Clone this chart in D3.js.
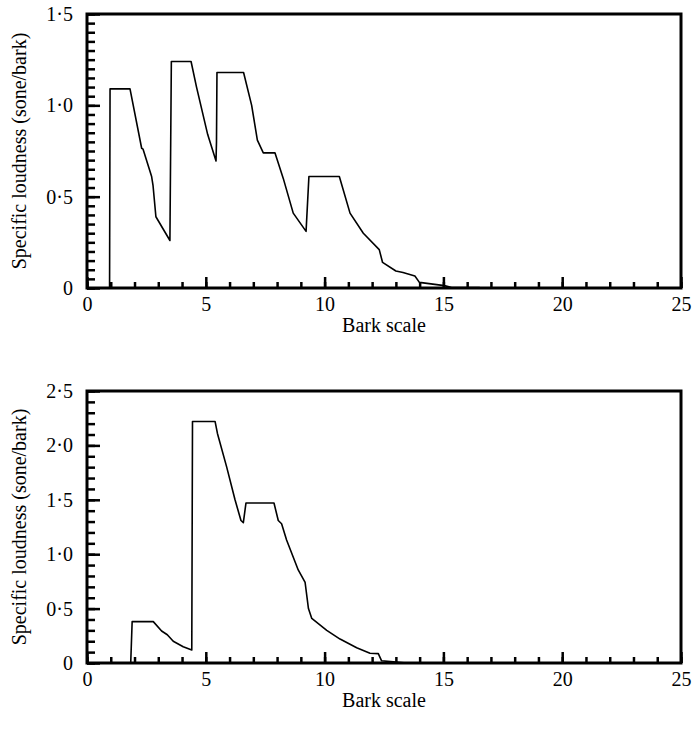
<!DOCTYPE html>
<html>
<head>
<meta charset="utf-8">
<script src="https://cdn.jsdelivr.net/npm/d3@7"></script>
<style>
  body { margin: 0; background: #fff; }
</style>
</head>
<body>
<div id="chart"></div>
<script>
const width = 694, height = 729;

// top panel: specific loudness vs bark
const barkTop = [0.95, 0.97, 1.81, 2.30, 2.36, 2.72, 2.78, 2.90, 3.49, 3.55, 3.59, 4.38, 4.61, 5.08, 5.43, 5.45, 5.47,
  6.59, 6.93, 7.17, 7.42, 7.91, 8.26, 8.68, 9.22, 9.34, 10.62, 11.07, 11.63, 12.30, 12.44, 13.0, 13.3, 13.8, 13.99,
  15.04, 15.35, 16.5, 16.6, 25];
const loudTop = [0, 1.09, 1.09, 0.765, 0.76, 0.61, 0.56, 0.39, 0.26, 1.24, 1.24, 1.24, 1.10, 0.84, 0.695, 0.80, 1.18,
  1.18, 1.00, 0.81, 0.74, 0.74, 0.60, 0.41, 0.31, 0.61, 0.61, 0.41, 0.30, 0.21, 0.14, 0.093, 0.085, 0.066, 0.031,
  0.013, 0.003, 0.003, 0, 0];

// bottom panel
const barkBottom = [1.84, 1.90, 2.79, 3.14, 3.38, 3.63, 4.05, 4.41, 4.44, 4.47, 5.39, 5.49, 5.88, 6.23, 6.48, 6.58,
  6.69, 7.87, 8.05, 8.19, 8.40, 8.89, 9.18, 9.32, 9.46, 10.09, 10.65, 11.35, 11.91, 12.26, 12.40, 12.89, 13.45, 25];
const loudBottom = [0, 0.38, 0.38, 0.294, 0.26, 0.20, 0.15, 0.12, 2.22, 2.22, 2.22, 2.11, 1.80, 1.50, 1.31, 1.29,
  1.47, 1.47, 1.31, 1.28, 1.13, 0.855, 0.74, 0.50, 0.41, 0.30, 0.22, 0.14, 0.089, 0.086, 0.02, 0.01, 0, 0];

const xMax = 25;
const xMajor = [0, 5, 10, 15, 20, 25];
const xMinor = d3.range(0, 26, 1);
const xTitle = "Bark scale";
const yTitle = "Specific loudness (sone/bark)";

const panels = [
  { bark: barkTop, loud: loudTop, yMax: 1.5, yMajor: [0, 0.5, 1.0, 1.5], yMinorStep: 0.05, top: 14, bottom: 288 },
  { bark: barkBottom, loud: loudBottom, yMax: 2.5, yMajor: [0, 0.5, 1.0, 1.5, 2.0, 2.5], yMinorStep: 0.1, top: 391, bottom: 663 }
];

const left = 87, right = 681;
const fs = 20;
const font = "Liberation Serif";

const svg = d3.select("#chart")
  .append("svg")
  .attr("width", width)
  .attr("height", height);

const fmt = v => v === 0 ? "0" : d3.format(".1f")(v).replace(".", "\u00b7");

// ticks point inward; labels sit at -padding
function styleAxis(a) {
  a.select(".domain").remove();
  a.selectAll("line").attr("stroke", "#000").attr("stroke-width", 2.5);
  a.selectAll("text").attr("font-size", fs).attr("font-family", font).attr("fill", "#000");
}

panels.forEach(p => {
  const x = d3.scaleLinear().domain([0, xMax]).range([left, right]);
  const y = d3.scaleLinear().domain([0, p.yMax]).range([p.bottom, p.top]);
  const yMinor = d3.range(0, p.yMax + 1e-9, p.yMinorStep).map(v => +v.toFixed(3));

  const g = svg.append("g");

  // frame
  g.append("rect")
    .attr("x", left)
    .attr("y", p.top)
    .attr("width", right - left)
    .attr("height", p.bottom - p.top)
    .attr("fill", "none")
    .attr("stroke", "#000")
    .attr("stroke-width", 3);

  // minor ticks
  g.append("g")
    .attr("transform", `translate(0,${p.bottom})`)
    .call(d3.axisBottom(x).tickValues(xMinor).tickSize(-6).tickFormat(""))
    .call(styleAxis);
  g.append("g")
    .attr("transform", `translate(${left},0)`)
    .call(d3.axisLeft(y).tickValues(yMinor).tickSize(-8).tickFormat(""))
    .call(styleAxis);

  // major ticks + labels
  g.append("g")
    .attr("transform", `translate(0,${p.bottom})`)
    .call(d3.axisBottom(x).tickValues(xMajor).tickSize(-11).tickPadding(9).tickFormat(d3.format("d")))
    .call(styleAxis);
  g.append("g")
    .attr("transform", `translate(${left},0)`)
    .call(d3.axisLeft(y).tickValues(p.yMajor).tickSize(-13).tickPadding(14).tickFormat(fmt))
    .call(styleAxis);

  // curve
  const pts = p.bark.map((b, i) => [b, p.loud[i]]);
  g.append("path")
    .datum(pts)
    .attr("fill", "none")
    .attr("stroke", "#000")
    .attr("stroke-width", 1.6)
    .attr("stroke-linejoin", "round")
    .attr("d", d3.line().x(d => x(d[0])).y(d => y(d[1])));

  // titles
  g.append("text")
    .attr("x", (left + right) / 2)
    .attr("y", p.bottom + 44)
    .attr("text-anchor", "middle")
    .attr("font-family", font)
    .attr("font-size", fs)
    .text(xTitle);
  g.append("text")
    .attr("transform", `translate(26,${(p.top + p.bottom) / 2}) rotate(-90)`)
    .attr("text-anchor", "middle")
    .attr("font-family", font)
    .attr("font-size", fs)
    .text(yTitle);
});
</script>
</body>
</html>
